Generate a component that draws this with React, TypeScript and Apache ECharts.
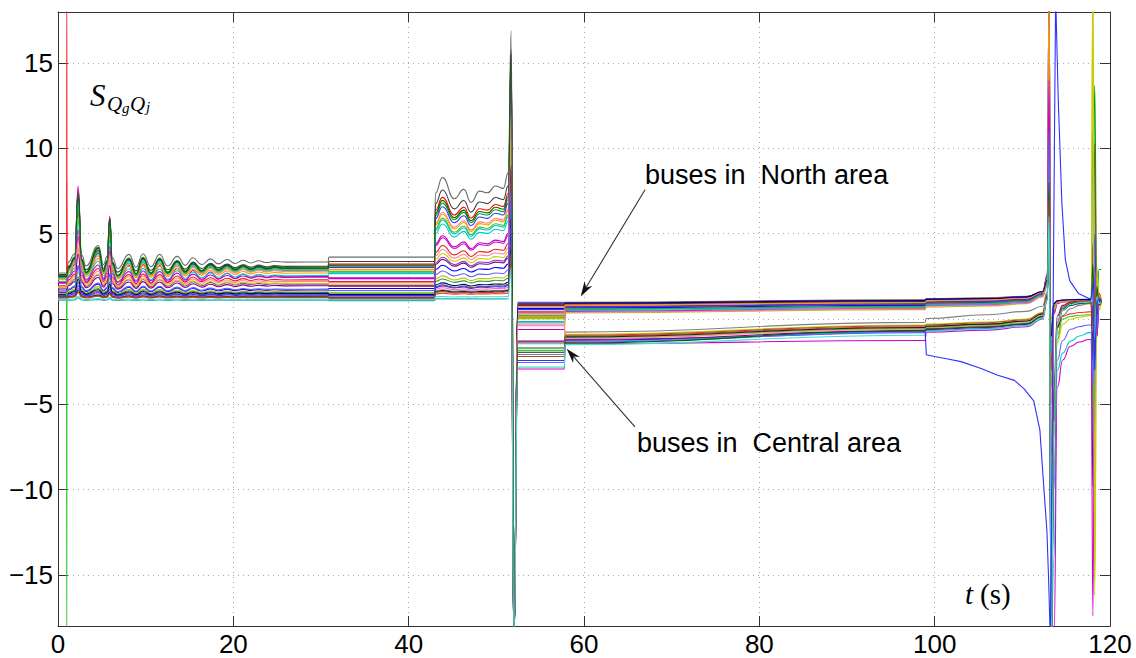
import React, { useEffect, useRef } from 'react';
import * as echarts from 'echarts';

// ---- axes ----
const X_MIN = 0, X_MAX = 120, X_STEP = 20;
const Y_MIN = -18, Y_MAX = 18;
const Y_TICKS = [-15, -10, -5, 0, 5, 10, 15];

// ---- line colours (one per bus) ----
const COLORS = ['#6b6b6b', '#ff0000', '#00a000', '#0000ff', '#00bfbf', '#bf00bf', '#bfbf00', '#8b5a2b', '#ff7f7f', '#7f3fbf',
  '#404040', '#e41a1c', '#2ca02c', '#3333ff', '#1fb5b5', '#ff66cc', '#ff9900', '#000080', '#808080', '#ff3030',
  '#33cc33', '#3030ff', '#00cccc', '#cc00cc', '#cccc00', '#202020', '#ff8c8c', '#800080', '#6060ff', '#006400',
  '#a0522d', '#40e0d0'];

// before the first event (t < 1 s)
const LVL0 = [2.7, 2.5, 2.55, 1.55, 2.4, 2.15, 1.5, 1.4, 2.35, 1.8, 2.6, 1.95, 1.45, 2.45, 1.1, 1.3, 2.3, 1.42, 1.25, 1.22,
  2.4, 1.35, 2.2, 2.1, 1.85, 1.28, 1.9, 1.7, 1.6, 2.5, 1.26, 1.15];
// spike at t = 1 s (null = none)
const SPIKE1 = [null, null, null, null, null, null, null, null, null, null, null, 8, null, null, null, null, null, null, null, 20,
  -20, null, null, null, null, null, null, null, null, null, null, null];

// phase A (1 .. 31 s): damped oscillation, shared shape
const T_A = [1.2, 1.9, 2.3, 2.7, 3.2, 4.6, 5.2, 5.6, 5.9, 6.2, 6.8, 8.1, 8.9, 9.7, 10.6, 11.6, 12.5, 13.6, 14.5, 15.4,
  16.4, 17.4, 18.3, 19.3, 20.2, 21.1, 22.0, 22.9, 23.8, 24.7, 26.0, 30.8];
const WOB_A = [0, 0.6, 4.6, 0.5, -0.3, 1.2, -0.2, 0.4, 3.0, 0.3, -0.5, 0.55, -0.4, 0.6, -0.35, 0.55, -0.3, 0.4, -0.25, 0.3,
  -0.2, 0.22, -0.15, 0.17, -0.12, 0.12, -0.08, 0.08, -0.05, 0.04, -0.02, 0];
const LVL_A = [3.35, 3.0, 3.05, 1.7, 2.85, 2.5, 1.6, 1.45, 2.8, 2.05, 3.1, 2.3, 1.55, 2.95, 1.1, 1.35, 2.7, 1.5, 1.3, 1.25,
  2.9, 1.4, 2.55, 2.45, 2.1, 1.3, 2.2, 1.95, 1.75, 3.0, 1.28, 1.15];
const AMP_A = [0.8, 1.0, 0.95, 0.3, 0.8, 1.15, 0.25, 0.15, 0.75, 0.45, 0.7, 0.55, 0.2, 0.9, 0.03, 0.1, 0.7, 0.18, 0.1, 0.07,
  0.85, 0.12, 0.7, 0.6, 0.45, 0.08, 0.5, 0.4, 0.3, 0.95, 0.06, 0.04];

// phase B (31 .. 43 s)
const LVL_B = [3.63, 3.22, 3.1, 1.79, 2.74, 2.41, 1.57, 1.39, 2.91, 1.96, 3.37, 2.2, 1.51, 3.02, 1.08, 1.33, 2.87, 1.43, 1.29, 1.21,
  2.78, 1.37, 2.66, 2.37, 2.04, 1.26, 2.13, 1.92, 1.67, 3.15, 1.24, 1.14];

// phase C (43 .. 51.5 s)
const T_C = [43.05, 43.85, 45.2, 46.3, 47.1, 48.1, 49.0, 49.9, 50.8, 51.35];
const WOB_C = [0, 0.93, -0.32, 0.23, -0.53, 0.13, 0.03, 0.43, 0.29, 1.2];
const LVL_C = [7.37, 6.36, 6.07, 2.9, 5.2, 4.4, 2.35, 1.9, 5.6, 3.3, 6.74, 3.9, 2.2, 5.88, 1.18, 1.75, 5.5, 2.0, 1.65, 1.47,
  5.3, 1.85, 5.0, 4.3, 3.5, 1.6, 3.7, 3.2, 2.6, 6.2, 1.55, 1.3];
const AMP_C = [1.0, 0.83, 0.78, 0.27, 0.65, 0.52, 0.19, 0.11, 0.71, 0.34, 0.89, 0.44, 0.16, 0.75, 0.0, 0.09, 0.69, 0.13, 0.07, 0.04,
  0.66, 0.1, 0.61, 0.5, 0.37, 0.07, 0.4, 0.32, 0.23, 0.81, 0.06, 0.02];
const PEAK_C = [16.9, 13.5, 15.0, 5.0, 11.0, 15.5, 8.0, 6.5, 14.0, 10.0, 15.8, 12.0, 7.0, 14.5, 11.5, 4.5, 13.0, 6.0, 4.0, 3.5,
  14.8, 5.5, 12.5, 15.2, 10.5, 4.2, 12.0, 9.0, 7.5, 15.6, 3.8, 3.0];
const DROP_C = -19;

// phase D (52.5 .. 57.8 s)
const LVL_D = [0.35, 0.85, 0.22, 0.62, -0.15, -0.62, 0.1, 0.7, 0.3, 0.98, 0.8, 0.42, 0.05, 0.55, -0.22, -0.4, 0.15, 0.92, -2.08, -1.36,
  -1.84, -2.43, -1.45, -2.93, 0.0, -1.95, -0.3, -1.3, -2.55, -1.7, -2.2, -2.82];

// phase E (57.8 .. 99 s): North buses (0-17) / Central buses (18-31)
const LVL_E0 = [0.9, 0.85, 0.75, 0.65, 0.55, 0.45, 0.35, 0.98, 0.8, 0.95, 0.88, 0.7, 0.6, 0.72, 0.5, 0.4, 0.82, 0.93, -0.77, -1.0,
  -1.1, -1.2, -1.3, -1.45, -0.9, -1.05, -1.15, -1.25, -1.35, -1.4, -0.95, -1.5];
const LVL_E1 = [1.05, 1.0, 0.9, 0.8, 0.72, 0.62, 0.55, 1.12, 0.95, 1.1, 1.02, 0.85, 0.75, 0.88, 0.68, 0.6, 0.97, 1.08, -0.2, -0.45,
  -0.55, -0.62, -0.75, -1.26, -0.35, -0.5, -0.6, -0.68, -0.8, -0.7, -0.4, -0.95];

// phase F (99 .. 113 s)
const T_F = [99.05, 106, 110.5, 112.3, 112.85];
const LVL_F = [
  [1.15, 1.2, 1.3, 1.6, 2.3], [1.1, 1.15, 1.25, 1.55, 2.2], [1.0, 1.05, 1.16, 1.5, 2.1], [0.92, 0.97, 1.08, 1.45, 2.4],
  [0.85, 0.9, 1.02, 1.4, 2.0], [0.78, 0.83, 0.96, 1.35, 2.6], [0.7, 0.76, 0.9, 1.3, 1.9], [1.2, 1.24, 1.33, 1.62, 2.5],
  [1.05, 1.1, 1.2, 1.52, 2.2], [1.18, 1.22, 1.32, 1.6, 2.3], [1.12, 1.16, 1.26, 1.56, 2.25], [0.97, 1.02, 1.13, 1.47, 2.15],
  [0.88, 0.93, 1.05, 1.42, 2.05], [1.0, 1.05, 1.16, 1.5, 2.5], [0.82, 0.87, 1.0, 1.38, 2.0], [0.75, 0.8, 0.93, 1.33, 2.2],
  [1.08, 1.13, 1.23, 1.55, 2.4], [1.16, 1.2, 1.3, 1.6, 2.3],
  [0.03, 0.25, 0.45, 0.75, 1.6], [-0.45, -0.3, -0.12, 0.3, 1.4], [-0.5, -0.38, -0.22, 0.2, 1.3], null,
  [-0.6, -0.48, -0.32, 0.1, 1.2], [-0.77, -0.65, -0.45, 0.0, 1.1], [-0.3, -0.18, 0.0, 0.4, 1.5], [-0.42, -0.3, -0.12, 0.3, 1.4],
  [-0.55, -0.42, -0.25, 0.2, 1.3], [-0.62, -0.5, -0.3, 0.15, 1.3], [-0.68, -0.56, -0.38, 0.05, 1.15], [-0.58, -0.45, -0.28, 0.15, 1.3],
  [-0.35, -0.22, -0.05, 0.35, 1.45], [-0.72, -0.6, -0.4, 0.05, 1.2]];

// collapse at ~113 s and recovery
const T_TAIL = [113.05, 113.3, 113.6, 114.0, 114.6, 115.5, 116.5, 117.6];
const TAIL = [
  [4, -2, 0.8, 1.0, 1.05, 1.08, 1.1, 1.1], [3, -1, 0.9, 1.05, 1.1, 1.12, 1.13, 1.13], [5, -4, 0.7, 1.0, 1.05, 1.07, 1.08, 1.1],
  [20, -19, 0.5, 0.95, 1.02, 1.05, 1.06, 1.07], [3.5, -1.5, 0.8, 1.0, 1.03, 1.05, 1.05, 1.05], [14.5, -19, 0.3, 0.9, 1.0, 1.02, 1.03, 1.04],
  [3, 0, 0.9, 1.0, 1.0, 1.02, 1.02, 1.02], [20, -19, 0.6, 1.0, 1.08, 1.1, 1.12, 1.12], [6, -5, 0.8, 1.05, 1.08, 1.1, 1.1, 1.1],
  [4.5, -2.5, 0.9, 1.08, 1.12, 1.14, 1.15, 1.15], [3.8, -1, 0.9, 1.05, 1.1, 1.12, 1.12, 1.12], [5.5, -3, 0.8, 1.0, 1.06, 1.08, 1.09, 1.09],
  [3.2, -0.5, 0.85, 1.0, 1.04, 1.06, 1.07, 1.07], [20, -19, 0.4, 0.95, 1.03, 1.05, 1.06, 1.06], [4, -2, 0.8, 0.98, 1.02, 1.04, 1.05, 1.05],
  [8, -8, 0.6, 0.95, 1.02, 1.04, 1.05, 1.05], [20, -19, 0.5, 0.98, 1.06, 1.09, 1.1, 1.1], [3.5, -1, 0.9, 1.06, 1.1, 1.13, 1.14, 1.14],
  [6, -19, -6, -1.2, 0.2, 0.6, 0.8, 0.9], [12, -19, -6, -0.5, 0.15, 0.3, 0.38, 0.42], [8, -19, -7, -0.9, 0.0, 0.15, 0.22, 0.25], null,
  [10, -19, -14, -3.0, -2.0, -1.3, -1.0, -0.8], [14, -19, -19, -4.0, -2.4, -1.6, -1.35, -1.2], [9, -19, -9, -1.4, -0.3, 0.0, 0.1, 0.2],
  [5, -19, -5, -0.5, 0.5, 0.8, 0.9, 0.95], [7, -19, -5, 0, 0.7, 0.95, 1.0, 1.05], [6, -19, -4, 0.2, 0.8, 1.0, 1.05, 1.05],
  [11, -19, -10, -2.4, -1.26, -0.6, -0.45, -0.35], [8, -19, -6, -0.4, 0.6, 0.9, 1.0, 1.05], [7, -19, -5, -0.2, 0.7, 0.95, 1.02, 1.05],
  [6, -19, -6, -0.3, 0.5, 0.85, 0.95, 1.0]];

// last event at ~118 s
const T_END = [117.85, 118.05, 118.25, 118.5, 118.75, 119.0];
const END = [
  [1.1, 1.6, 0.4, 1.3, 1.0, 1.1], [1.13, -2, 10.3, -1, 1.5, 1.1], [1.1, 2.5, 13.7, 1.0, 2.9, 2.9], [1.07, -9.8, 2.0, 0.5, 1.2, 1.1],
  [1.05, 3.5, -1.5, 1.8, 0.8, 1.0], [1.04, 0.5, 2.5, -0.5, 1.3, 1.0], [1.02, 20, -15.3, 3, 0.6, 1.0], [1.12, 0.3, 2.2, 0.6, 1.1, 1.1],
  [1.1, 2.0, 0.2, 1.4, 1.0, 1.1], [1.15, 0.6, 1.8, 0.9, 1.2, 1.1], [1.12, -1.0, 3.0, 0.7, 1.0, 1.1], [1.09, 4.5, -2.0, 1.5, 0.9, 1.0],
  [1.07, -5.4, 3.0, 0.8, 1.1, 1.0], [1.06, -3.5, 5.0, -1.0, 1.2, 1.0], [1.05, 11.0, -6.0, 2.0, 0.9, 1.0], [1.05, 1.5, 0.0, 1.2, 1.0, 1.0],
  [1.1, 0.8, 2.8, 0.2, 1.4, 1.1], [1.14, 2.2, -0.3, 1.6, 1.0, 1.1], [0.9, -2.0, 2.5, 0.3, 1.2, 1.0], [0.42, 3.0, -1.0, 1.6, 0.9, 1.0],
  [0.25, -1.5, 2.0, 0.4, 1.3, 1.0], null, [-0.8, -3.0, 2.2, 0.0, 1.1, 1.0], [-1.2, -17.4, 3.0, -1.0, 0.8, 1.0],
  [0.2, 20, -16.2, 2.5, 0.5, 1.0], [0.95, -2.5, 1.5, 0.2, 1.2, 1.0], [1.05, 2.8, -0.8, 1.5, 0.9, 1.0], [1.05, -1.2, 2.4, 0.5, 1.1, 1.0],
  [-0.35, -4.0, 2.8, -0.5, 1.0, 1.0], [1.05, 3.2, -2.5, 1.9, 0.8, 1.0], [1.05, -0.8, 1.9, 0.6, 1.2, 1.0], [1.0, 1.8, -1.2, 1.3, 0.9, 1.0]];

// the one Central bus that diverges after 99 s
const DIVE_INDEX = 21;
const DIVE_T = [99.05, 100.0, 101.5, 103.0, 105.3, 107.2, 109.1, 110.2, 111.3, 112.0, 112.4, 112.8, 113.0, 113.2, 113.8, 114.1,
  114.3, 114.5, 114.9, 115.4, 116.4, 117.6, 117.85, 118.05, 118.25, 118.5, 118.75, 119.0];
const DIVE_V = [-2.1, -2.2, -2.35, -2.5, -2.9, -3.3, -3.6, -4.1, -4.8, -6.5, -9.5, -12.4, -15.3, -19, 19, 12.8,
  9.9, 6.9, 3.5, 2.25, 1.5, 1.2, 1.2, 2.0, -3.0, 1.0, 1.2, 1.1];

// annotations (data coordinates)
const NORTH_TEXT = 'buses in  North area';
const NORTH_LABEL = [66.96, 8.46];
const NORTH_ARROW = [[66.96, 7.58], [59.62, 1.32]];
const CENTRAL_TEXT = 'buses in  Central area';
const CENTRAL_LABEL = [66.04, -7.26];
const CENTRAL_ARROW = [[65.81, -6.33], [58.02, -1.74]];
const S_LABEL = [3.65, 13.11];
const T_LABEL = [103.46, -16.13];

function buildLine(i: number): number[][] {
  const d: number[][] = [];
  d.push([0, LVL0[i]], [0.97, LVL0[i]]);
  if (SPIKE1[i] !== null) d.push([1.0, SPIKE1[i] as number], [1.03, LVL0[i]]);
  T_A.forEach((t, k) => d.push([t, LVL_A[i] + AMP_A[i] * WOB_A[k]]));
  d.push([30.9, LVL_B[i]], [42.95, LVL_B[i]]);
  T_C.forEach((t, k) => d.push([t, LVL_C[i] + AMP_C[i] * WOB_C[k]]));
  d.push([51.7, PEAK_C[i]], [52.0, DROP_C], [52.45, LVL_D[i]], [57.75, LVL_D[i]], [57.85, LVL_E0[i]], [98.9, LVL_E1[i]]);
  if (i === DIVE_INDEX) return d;
  const f = LVL_F[i] as number[];
  T_F.forEach((t, k) => d.push([t, f[k]]));
  const tl = TAIL[i] as number[];
  T_TAIL.forEach((t, k) => d.push([t, tl[k]]));
  const en = END[i] as number[];
  T_END.forEach((t, k) => d.push([t, en[k]]));
  return d;
}

const fmt = (v: number) => (v < 0 ? '\u2212' + Math.abs(v) : String(v));

export default function App() {
  const ref = useRef<HTMLDivElement>(null);
  useEffect(() => {
    document.body.style.margin = '0';
    const el = ref.current!;
    const chart = echarts.init(el, null, { renderer: 'svg' });
    const series: any[] = [];
    COLORS.forEach((c, i) => {
      series.push({
        type: 'line', data: buildLine(i), showSymbol: false, symbol: 'none', smooth: 0.5, smoothMonotone: 'x',
        lineStyle: { color: c, width: 1.1 }, silent: true, z: 2,
      });
    });
    const diveData: number[][] = [[98.9, LVL_E1[DIVE_INDEX]]];
    DIVE_T.forEach((t, k) => diveData.push([t, DIVE_V[k]]));
    series.push({
      type: 'line', data: diveData, showSymbol: false, symbol: 'none', smooth: false,
      lineStyle: { color: COLORS[DIVE_INDEX], width: 1.1 }, silent: true, z: 2,
    });

    const axisLineStyle = { color: '#333', width: 1 };
    const gridStyle = { color: '#a8a8a8', type: [1, 4], width: 1 };
    const tickFont = { fontSize: 26, color: '#000', fontFamily: '"Liberation Sans", Arial, sans-serif' };
    chart.setOption({
      animation: false,
      grid: { left: 58, right: 26, top: 12, bottom: 32, containLabel: false, outerBoundsMode: 'none' },
      xAxis: [
        {
          type: 'value', min: X_MIN, max: X_MAX, interval: X_STEP,
          axisLine: { show: true, onZero: false, lineStyle: axisLineStyle },
          axisTick: { show: true, inside: true, length: 10, lineStyle: axisLineStyle },
          axisLabel: { ...tickFont, margin: 5 },
          splitLine: { show: true, lineStyle: gridStyle },
        },
        {
          type: 'value', position: 'top', min: X_MIN, max: X_MAX, interval: X_STEP,
          axisLine: { show: true, onZero: false, lineStyle: axisLineStyle },
          axisTick: { show: true, inside: true, length: 10, lineStyle: axisLineStyle },
          axisLabel: { show: false }, splitLine: { show: false },
        },
      ],
      yAxis: [
        {
          type: 'value', min: Y_MIN, max: Y_MAX, splitNumber: 7,
          axisLine: { show: true, onZero: false, lineStyle: axisLineStyle },
          axisTick: { show: true, inside: true, length: 10, customValues: Y_TICKS, lineStyle: axisLineStyle },
          axisLabel: { ...tickFont, margin: 5, customValues: Y_TICKS, formatter: fmt },
          splitLine: { show: true, lineStyle: gridStyle },
        },
        {
          type: 'value', position: 'right', min: Y_MIN, max: Y_MAX, splitNumber: 7,
          axisLine: { show: true, onZero: false, lineStyle: axisLineStyle },
          axisTick: { show: true, inside: true, length: 10, customValues: Y_TICKS, lineStyle: axisLineStyle },
          axisLabel: { show: false }, splitLine: { show: false },
        },
      ],
      series,
    });

    const px = (p: number[]) => chart.convertToPixel({ gridIndex: 0 } as any, p) as number[];
    const arrow = (a: number[][]) => {
      const p0 = px(a[0]);
      const p1 = px(a[1]);
      const dx = p1[0] - p0[0], dy = p1[1] - p0[1];
      const len = Math.hypot(dx, dy);
      const ux = dx / len, uy = dy / len;
      const hl = 15, hw = 4.5;
      const bx = p1[0] - ux * hl, by = p1[1] - uy * hl;
      const nx = p1[0] - ux * hl * 0.7, ny = p1[1] - uy * hl * 0.7;
      return [
        { type: 'line', z: 50, shape: { x1: p0[0], y1: p0[1], x2: nx, y2: ny }, style: { stroke: '#333', lineWidth: 1.1 } },
        {
          type: 'polygon', z: 50,
          shape: { points: [[p1[0], p1[1]], [bx - uy * hw, by + ux * hw], [nx, ny], [bx + uy * hw, by - ux * hw]] },
          style: { fill: '#111' },
        },
      ];
    };
    const sans = '"Liberation Sans", Arial, sans-serif';
    const serif = '"Liberation Serif", "DejaVu Serif", serif';
    const nl = px(NORTH_LABEL);
    const cl = px(CENTRAL_LABEL);
    const sl = px(S_LABEL);
    const tl = px(T_LABEL);
    const txt = (x: number, y: number, text: string, size: number, family: string, italic: boolean) => ({
      type: 'text', z: 60, x, y,
      style: { text, fontSize: size, fontFamily: family, fontStyle: italic ? 'italic' : 'normal', fill: '#000', align: 'left', verticalAlign: 'middle' },
    });
    chart.setOption({
      graphic: [
        txt(nl[0], nl[1], NORTH_TEXT, 27, sans, false),
        txt(cl[0], cl[1], CENTRAL_TEXT, 27, sans, false),
        ...arrow(NORTH_ARROW),
        ...arrow(CENTRAL_ARROW),
        txt(sl[0], sl[1], 'S', 31, serif, true),
        txt(sl[0] + 17, sl[1] + 9, 'Q', 21, serif, true),
        txt(sl[0] + 32, sl[1] + 12.5, 'g', 15, serif, true),
        txt(sl[0] + 40, sl[1] + 9, 'Q', 21, serif, true),
        txt(sl[0] + 56, sl[1] + 12, 'j', 15, serif, true),
        txt(tl[0], tl[1], 't', 29, serif, true),
        txt(tl[0] + 15, tl[1], '(s)', 29, serif, false),
      ],
    });
    return () => chart.dispose();
  }, []);
  return <div ref={ref} style={{ width: 1136, height: 658 }} />;
}
